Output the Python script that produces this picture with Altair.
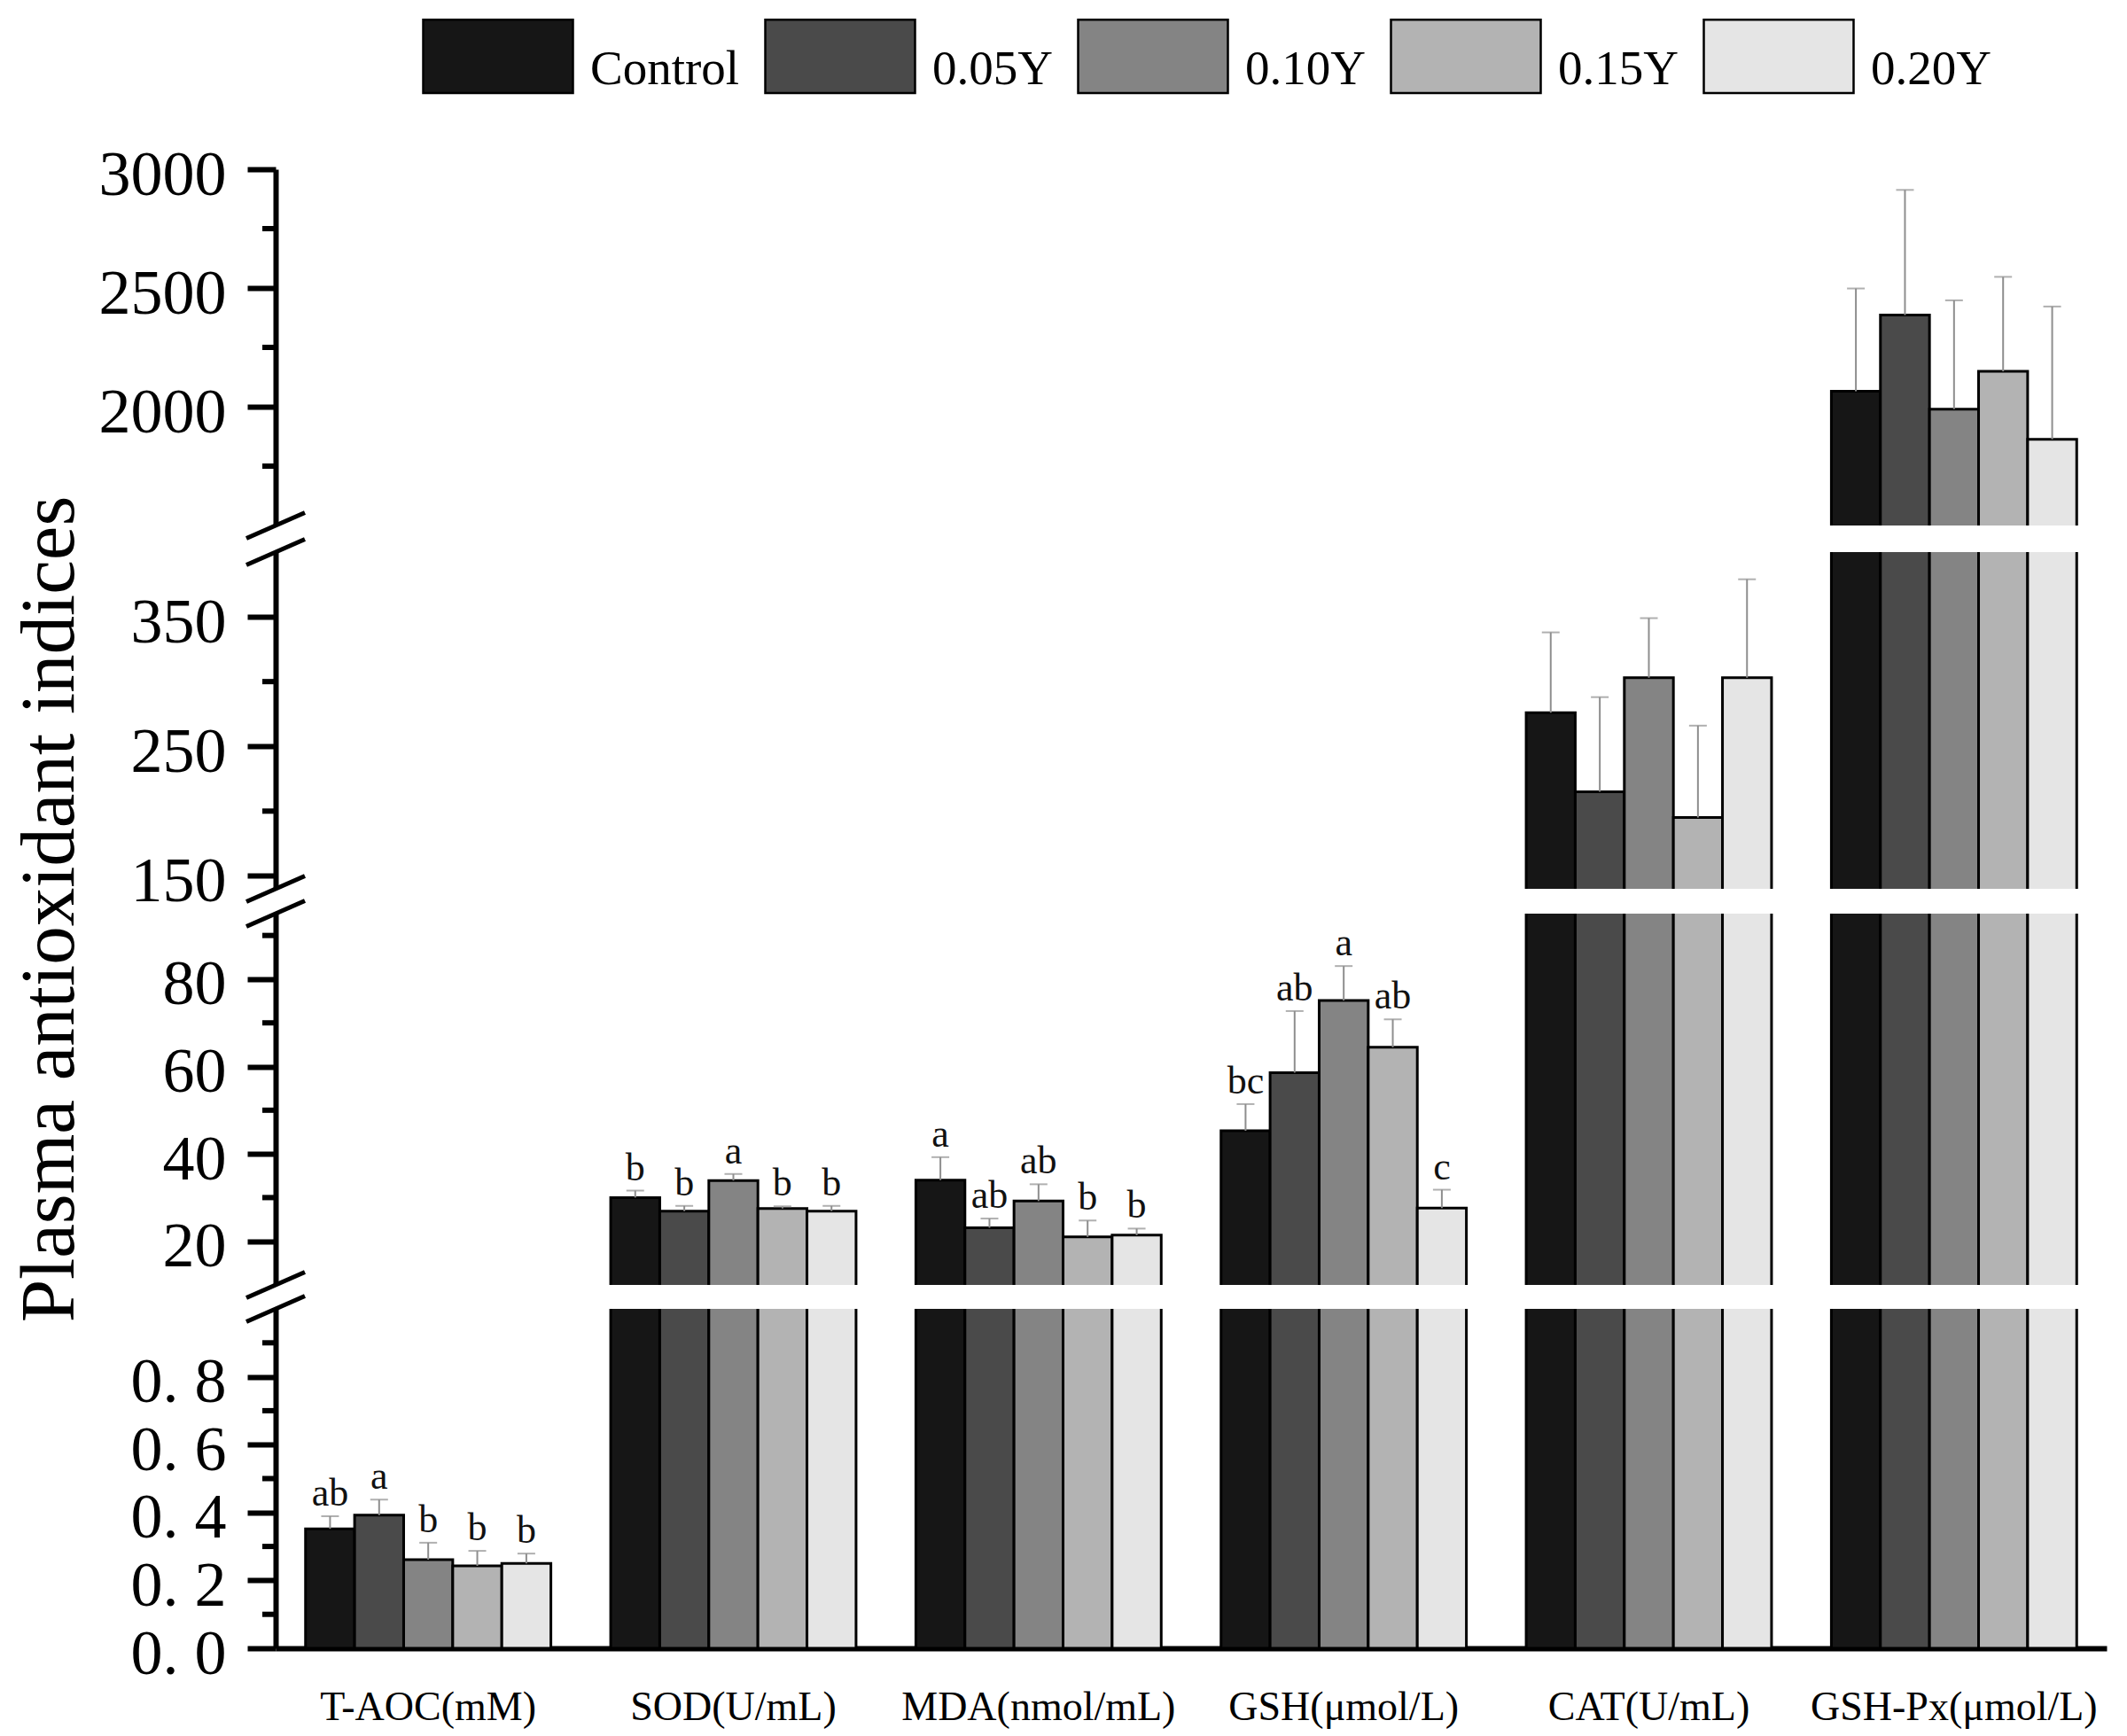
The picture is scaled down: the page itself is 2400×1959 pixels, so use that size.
import altair as alt
import pandas as pd

FONT = "Liberation Serif"

groups = ["T-AOC(mM)", "SOD(U/mL)", "MDA(nmol/mL)", "GSH(μmol/L)", "CAT(U/mL)", "GSH-Px(μmol/L)"]
treatments = ["Control", "0.05Y", "0.10Y", "0.15Y", "0.20Y"]
colors = ["#161616", "#4a4a4a", "#848484", "#b3b3b3", "#e5e5e5"]

taoc_mean = [0.352, 0.392, 0.261, 0.243, 0.250]
sod_mean = [30.0, 26.9, 33.9, 27.5, 26.9]
mda_mean = [34.0, 23.1, 29.2, 21.0, 21.4]
gsh_mean = [45.3, 58.6, 75.1, 64.4, 27.6]
cat_mean = [276, 215, 303, 195, 303]
gshpx_mean = [2065, 2386, 1990, 2149, 1863]

taoc_err = [0.037, 0.046, 0.050, 0.044, 0.029]
sod_err = [1.6, 1.2, 1.5, 0.5, 1.2]
mda_err = [5.25, 2.1, 3.85, 3.75, 1.5]
gsh_err = [6.1, 14.1, 7.9, 6.4, 4.2]
cat_err = [62, 73, 46, 71, 76]
gshpx_err = [433, 527, 458, 398, 559]

taoc_letters = ["ab", "a", "b", "b", "b"]
sod_letters = ["b", "b", "a", "b", "b"]
mda_letters = ["a", "ab", "ab", "b", "b"]
gsh_letters = ["bc", "ab", "a", "ab", "c"]
cat_letters = ["", "", "", "", ""]
gshpx_letters = ["", "", "", "", ""]

major_ticks = [0, 0.2, 0.4, 0.6, 0.8, 20, 40, 60, 80, 150, 250, 350, 2000, 2500, 3000]
minor_ticks = [0.1, 0.3, 0.5, 0.7, 0.9, 30, 50, 70, 90, 200, 300, 1750, 2250, 2750]
break_edges = [1, 10, 95, 140, 400, 1500]
gap_low = [1, 95, 400]
gap_high = [10, 140, 1500]

# broken-axis piecewise scale (segment boundaries)
Y_DOMAIN = [0, 1, 10, 95, 140, 400, 1500, 3000]
Y_RANGE = [1669, 1286, 1259, 840, 812, 432, 402, 0]
W, H = 2066, 1669

means = [taoc_mean, sod_mean, mda_mean, gsh_mean, cat_mean, gshpx_mean]
errs = [taoc_err, sod_err, mda_err, gsh_err, cat_err, gshpx_err]
lets = [taoc_letters, sod_letters, mda_letters, gsh_letters, cat_letters, gshpx_letters]

rows = []
for g, m, e, l in zip(groups, means, errs, lets):
    for t, mv, ev, lv in zip(treatments, m, e, l):
        rows.append({"group": g, "treat": t, "mean": mv, "err": ev, "top": mv + ev, "letter": lv})
df = pd.DataFrame(rows)

yscale = alt.Scale(domain=Y_DOMAIN, range=Y_RANGE, zero=False, nice=False)
yaxis = alt.Axis(
    title="Plasma antioxidant indices",
    values=major_ticks,
    labelExpr="datum.value < 1 ? replace(format(datum.value, '.1f'), '.', '. ') : format(datum.value, 'd')",
    labelFontSize=72, labelFont=FONT, labelColor="black", labelPadding=24,
    labelOffset=6, labelOverlap=False, labelFlush=False, labelLimit=1000,
    tickSize=32, tickWidth=6, tickColor="black",
    domainWidth=6, domainColor="black", grid=False, zindex=0,
    titleFontSize=87, titleFont=FONT, titleFontWeight="normal", titleColor="black",
    titleAngle=270, titleX=-229, titleY=834.5, titleAlign="center", titleBaseline="alphabetic",
)
x_enc = alt.X(
    "group:N", sort=groups,
    scale=alt.Scale(paddingInner=0.196, paddingOuter=0.098),
    axis=alt.Axis(title=None, labelAngle=0, labelFontSize=46, labelFont=FONT, labelColor="black",
                  labelPadding=44, ticks=False, domainWidth=6, domainColor="black",
                  labelLimit=1000, zindex=0, grid=False),
)
xo = alt.XOffset("treat:N", sort=treatments, scale=alt.Scale(paddingInner=0, paddingOuter=0))

base = alt.Chart(df)

bars = base.mark_bar(stroke="black", strokeWidth=3).encode(
    x=x_enc, xOffset=xo,
    y=alt.Y("mean:Q", scale=yscale, axis=yaxis),
    y2=alt.datum(0),
    color=alt.Color(
        "treat:N", sort=treatments,
        scale=alt.Scale(domain=treatments, range=colors),
        legend=alt.Legend(
            title=None, orient="none", legendX=165, legendY=-199.5, direction="horizontal",
            symbolType="M-1,-0.66H1V0.32H-1Z", symbolSize=28561,
            symbolStrokeColor="black", symbolStrokeWidth=2.5, symbolOpacity=1,
            labelFontSize=55, labelFont=FONT, labelColor="black", labelOffset=18,
            columnPadding=23, padding=0, labelLimit=600,
        ),
    ),
)

ERR = "#8e8e8e"
errbars = base.mark_rule(color=ERR, strokeWidth=2).encode(
    x=x_enc, xOffset=xo,
    y=alt.Y("mean:Q", scale=yscale, axis=yaxis),
    y2="top:Q",
)
caps = base.mark_tick(color=ERR, thickness=2, size=20).encode(
    x=x_enc, xOffset=xo,
    y=alt.Y("top:Q", scale=yscale, axis=yaxis),
)
letters = base.transform_filter("datum.letter != ''").mark_text(
    font=FONT, fontSize=44, color="#111111", baseline="alphabetic", align="center", dy=-12
).encode(
    x=x_enc, xOffset=xo,
    y=alt.Y("top:Q", scale=yscale, axis=yaxis),
    text="letter:N",
)

gaps_df = pd.DataFrame({"lo": gap_low, "hi": gap_high})
bands = alt.Chart(gaps_df).mark_rect(color="white", opacity=1).encode(
    y=alt.Y("lo:Q", scale=yscale, axis=yaxis),
    y2="hi:Q",
    x=alt.value(-6), x2=alt.value(W + 8),
)

edges_df = pd.DataFrame({"v": break_edges})
slashes = alt.Chart(edges_df).mark_rule(color="black", strokeWidth=5, yOffset=14.5, y2Offset=-14.5).encode(
    y=alt.Y("v:Q", scale=yscale, axis=yaxis),
    y2="v:Q",
    x=alt.value(-33), x2=alt.value(33),
)

minor_df = pd.DataFrame({"v": minor_ticks})
minors = alt.Chart(minor_df).mark_rule(color="black", strokeWidth=6).encode(
    y=alt.Y("v:Q", scale=yscale, axis=yaxis),
    x=alt.value(-15), x2=alt.value(0),
)

chart = alt.layer(bars, errbars, caps, letters, bands, slashes, minors).properties(
    width=W, height=H,
    autosize=alt.AutoSizeParams(type="none"),
    padding={"left": 303, "top": 183, "right": 15, "bottom": 91},
    background="white",
).configure(font=FONT, view=alt.ViewConfig(strokeWidth=0, stroke=None))

chart.save("out.html", embed_options={"renderer": "svg", "actions": False})
